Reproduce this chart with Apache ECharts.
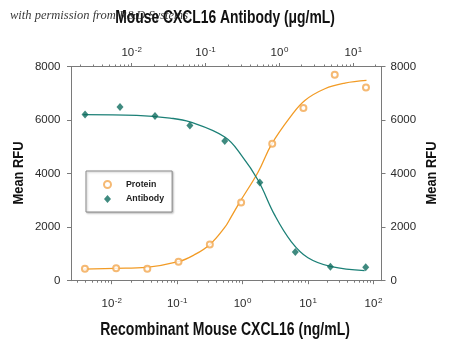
<!DOCTYPE html>
<html>
<head>
<meta charset="utf-8">
<script src="https://cdn.jsdelivr.net/npm/echarts@6/dist/echarts.min.js"></script>
<style>
html,body{margin:0;padding:0;background:#fff;}
#chart{width:450px;height:345px;}
</style>
</head>
<body>
<div id="chart"></div>
<script>
// ---- data ----
// Protein (bottom axis, ng/mL)
var proteinConc = [0.0039, 0.0117, 0.035, 0.105, 0.316, 0.95, 2.84, 8.5, 25.6, 76.8];
var proteinRFU  = [447, 462, 447, 708, 1356, 2921, 5119, 6446, 7690, 7217];
// Antibody (top axis, ug/mL)
var antibodyConc = [0.00234, 0.00695, 0.0207, 0.0614, 0.182, 0.542, 1.64, 4.89, 14.7];
var antibodyRFU  = [6211, 6484, 6148, 5801, 5217, 3666, 1069, 522, 499];
// fitted curves
var proteinFitConc = [0.00368, 0.0112, 0.0342, 0.104, 0.181, 0.317, 0.537, 0.64, 0.91, 1.73, 2.77, 5.6, 8.94, 18.1, 36.5, 78.2];
var proteinFitRFU  = [436, 460, 500, 708, 960, 1356, 2000, 2300, 2944, 4062, 5093, 6174, 6733, 7169, 7378, 7478];
var antibodyFitConc = [0.00222, 0.0117, 0.033, 0.0614, 0.182, 0.306, 0.514, 0.863, 1.45, 2.43, 5.05, 14.2];
var antibodyFitRFU  = [6200, 6174, 6073, 5930, 5366, 4684, 3752, 2448, 1453, 857, 522, 373];
// tick labels (decade exponents)
var bottomDecades = [-2, -1, 0, 1, 2];
var topDecades = [-2, -1, 0, 1];
var yTicks = [0, 2000, 4000, 6000, 8000];

var bottomRange = [-2.614, 2.115];
var topRange = [-2.814, 1.374];

function minorTicks(range) {
  var out = [];
  for (var k = -4; k <= 3; k++) {
    for (var m = 2; m <= 9; m++) {
      var v = Math.log10(m) + k;
      if (v > range[0] && v < range[1]) out.push(v);
    }
  }
  return out;
}
function pairs(xs, ys) {
  return xs.map(function (x, i) { return [Math.log10(x), ys[i]]; });
}

var FONT = '"Liberation Sans", Arial, sans-serif';
var AXIS = '#7a7a7a';
var LABEL = '#2a2a2a';
var ORANGE_LINE = '#F29B25';
var ORANGE_PT = '#F3A850';
var TEAL_LINE = '#1C8077';
var TEAL_PT = '#0F6D5F';

function expLabel(v) {
  var e = Math.round(v);
  return '{b|10}{s|' + (e < 0 ? '-' : '') + Math.abs(e) + '}';
}
var richLab = {
  b: { fontSize: 11.5, fontFamily: FONT, color: LABEL, lineHeight: 14 },
  s: { fontSize: 8, fontFamily: FONT, color: LABEL, lineHeight: 14, verticalAlign: 'top', padding: [0, 0, 0, 0.5] }
};

function logAxis(pos, range, decades, labelMargin) {
  return {
    type: 'value', position: pos, min: range[0], max: range[1],
    splitLine: { show: false },
    axisLine: { show: true, onZero: false, lineStyle: { color: AXIS, width: 1 } },
    axisTick: { show: true, customValues: decades, length: 3.5, lineStyle: { color: AXIS } },
    axisLabel: { show: true, customValues: decades, formatter: expLabel, rich: richLab, margin: labelMargin }
  };
}
function minorAxis(pos, range) {
  return {
    type: 'value', position: pos, min: range[0], max: range[1],
    splitLine: { show: false },
    axisLine: { show: false, onZero: false },
    axisTick: { show: true, customValues: minorTicks(range), length: 2, lineStyle: { color: AXIS } },
    axisLabel: { show: false }
  };
}
function yAxis(pos) {
  return {
    type: 'value', position: pos, min: 0, max: 8000, interval: 2000,
    splitLine: { show: false },
    axisLine: { show: true, onZero: false, lineStyle: { color: AXIS, width: 1 } },
    axisTick: { show: true, length: 4.5, lineStyle: { color: AXIS } },
    axisLabel: {
      fontFamily: FONT, fontSize: 11.5, color: LABEL, margin: pos === 'left' ? 11 : 9.5,
      formatter: function (v) { return String(v); }
    }
  };
}

var TITLE_FONT = '"Liberation Sans", Arial, sans-serif';
function title(text, x, y, size, sx, rot) {
  return {
    type: 'text', x: x, y: y, rotation: rot || 0, scaleX: sx, z: 50,
    style: {
      text: text, x: 0, y: 0, align: 'center', verticalAlign: 'middle',
      textAlign: 'center', textVerticalAlign: 'middle',
      fontFamily: TITLE_FONT, fontWeight: 'bold', fontSize: size, fill: '#111'
    }
  };
}

var chart = echarts.init(document.getElementById('chart'), null, { renderer: 'canvas' });
chart.setOption({
  backgroundColor: '#fff',
  animation: false,
  grid: { left: 71.5, right: 69, top: 66.5, bottom: 64.3 },
  xAxis: [
    logAxis('bottom', bottomRange, bottomDecades, 16),
    minorAxis('bottom', bottomRange),
    logAxis('top', topRange, topDecades, 7),
    minorAxis('top', topRange)
  ],
  yAxis: [yAxis('left'), yAxis('right')],
  legend: {
    orient: 'vertical', left: 86, top: 171,
    padding: [9, 8, 8.5, 17], itemGap: 5.5, itemWidth: 7, itemHeight: 8,
    data: ['Protein', 'Antibody'],
    backgroundColor: '#fff', borderColor: '#8a8a8a', borderWidth: 1,
    shadowColor: 'rgba(0,0,0,0.25)', shadowBlur: 2, shadowOffsetX: 1, shadowOffsetY: 1,
    textStyle: { fontFamily: FONT, fontSize: 8.8, fontWeight: 'bold', color: '#222', padding: [0, 0, 0, 10] }
  },
  series: [
    {
      name: 'Protein fit', type: 'line', xAxisIndex: 0, yAxisIndex: 0,
      data: pairs(proteinFitConc, proteinFitRFU), smooth: 0.4, showSymbol: false,
      lineStyle: { color: ORANGE_LINE, width: 1.3 }, silent: true
    },
    {
      name: 'Antibody fit', type: 'line', xAxisIndex: 2, yAxisIndex: 0,
      data: pairs(antibodyFitConc, antibodyFitRFU), smooth: 0.4, showSymbol: false,
      lineStyle: { color: TEAL_LINE, width: 1.3 }, silent: true
    },
    {
      name: 'Protein', type: 'scatter', xAxisIndex: 0, yAxisIndex: 0,
      data: pairs(proteinConc, proteinRFU), symbol: 'emptyCircle', symbolSize: 6,
      itemStyle: { color: ORANGE_PT, borderColor: ORANGE_PT, borderWidth: 1 }, z: 3
    },
    {
      name: 'Antibody', type: 'scatter', xAxisIndex: 2, yAxisIndex: 0,
      data: pairs(antibodyConc, antibodyRFU), symbol: 'diamond', symbolSize: [7, 8],
      itemStyle: { color: TEAL_PT }, z: 3
    }
  ],
  graphic: [
    title('Mouse CXCL16 Antibody (\u03bcg/mL)', 225, 18, 19, 0.73),
    title('Recombinant Mouse CXCL16 (ng/mL)', 225, 329.7, 17.5, 0.80),
    title('Mean RFU', 18.7, 173, 15, 0.86, Math.PI / 2),
    title('Mean RFU', 431.5, 173, 15, 0.86, Math.PI / 2),
    {
      type: 'text', x: 10, y: 16, z: 100,
      style: { text: 'with permission from R&D Systems', x: 0, y: 0, verticalAlign: 'middle', textVerticalAlign: 'middle',
        fontFamily: '"Liberation Serif", "DejaVu Serif", serif', fontStyle: 'italic', fontSize: 12.5, fill: 'rgba(30,30,30,0.9)' }
    }
  ]
});
</script>
</body>
</html>
